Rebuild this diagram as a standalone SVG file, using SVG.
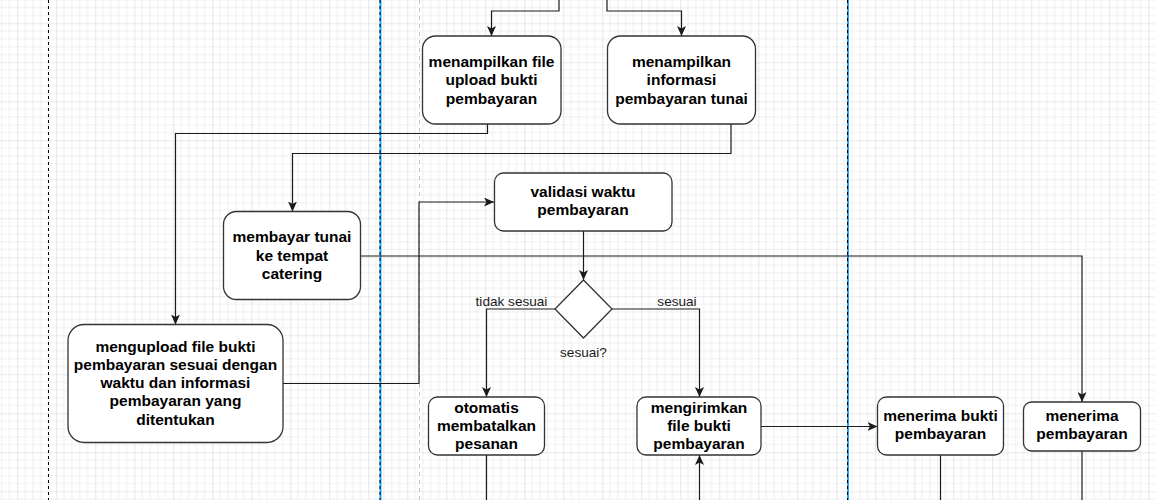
<svg xmlns="http://www.w3.org/2000/svg" width="1155" height="500" viewBox="0 0 1155 500">
<style>
.node rect{fill:#fff;stroke:#333;stroke-width:1.3}
.node text{font-family:"Liberation Sans",Arial,Helvetica,sans-serif;font-weight:bold;font-size:15.5px;fill:#000;text-anchor:middle}
.edge{fill:none;stroke:#1a1a1a;stroke-width:1.2}
.lbl{font-family:"Liberation Sans",Arial,Helvetica,sans-serif;font-size:13.6px;fill:#1a1a1a;text-anchor:middle}
</style>
<defs>
<pattern id="grid" patternUnits="userSpaceOnUse" x="17.3" y="23.3" width="39" height="39">
<rect width="39" height="39" fill="#fff"/>
<path d="M7.8,0V39M15.6,0V39M23.4,0V39M31.2,0V39M0,7.8H39M0,15.6H39M0,23.4H39M0,31.2H39" stroke="#f0f0f0" stroke-width="1"/>
<path d="M0,0V39M0,0H39" stroke="#d6d6d6" stroke-width="1.2"/>
</pattern>
<marker id="arr" viewBox="0 0 10 9" refX="10" refY="4.5" markerWidth="10" markerHeight="9" markerUnits="userSpaceOnUse" orient="auto">
<path d="M0,0 L10,4.5 L0,9 L2.5,4.5 Z" fill="#1a1a1a"/>
</marker>
</defs>
<rect width="1155" height="500" fill="url(#grid)"/>
<g id="lanes">
<line x1="48.5" y1="0" x2="48.5" y2="500" stroke="#000" stroke-width="1" stroke-dasharray="3 3"/>
<line x1="419.5" y1="0" x2="419.5" y2="500" stroke="#c8c8c8" stroke-width="1" stroke-dasharray="4 4"/>
<line x1="380.5" y1="0" x2="380.5" y2="500" stroke="#0a9cf0" stroke-width="1.8"/>
<line x1="380" y1="0" x2="380" y2="500" stroke="#000" stroke-width="1" stroke-dasharray="3 3"/>
<line x1="848" y1="0" x2="848" y2="500" stroke="#0a9cf0" stroke-width="1.8"/>
<line x1="847.5" y1="0" x2="847.5" y2="500" stroke="#000" stroke-width="1" stroke-dasharray="3 3"/>
</g>
<g id="connectors">
<path class="edge" d="M559,0 V11 H491.5 V36" marker-end="url(#arr)"/>
<path class="edge" d="M607,0 V11 H681.5 V36" marker-end="url(#arr)"/>
<path class="edge" d="M487.5,124 V133.5 H175.5 V324.5" marker-end="url(#arr)"/>
<path class="edge" d="M731,124 V153.5 H292.5 V211.5" marker-end="url(#arr)"/>
<path class="edge" d="M283,383.5 H419 V202 H494" marker-end="url(#arr)"/>
<path class="edge" d="M361,256 H1082 V402" marker-end="url(#arr)"/>
<path class="edge" d="M583.5,231 V280" marker-end="url(#arr)"/>
<path class="edge" d="M555,309 H486.5 V397" marker-end="url(#arr)"/>
<path class="edge" d="M612,309 H699.5 V397" marker-end="url(#arr)"/>
<path class="edge" d="M761,426.5 H877.5" marker-end="url(#arr)"/>
<path class="edge" d="M486.5,455 V500"/>
<path class="edge" d="M699.5,500 V455" marker-end="url(#arr)"/>
<path class="edge" d="M940.5,455 V500"/>
<path class="edge" d="M1082,451 V500"/>
<text class="lbl" x="511.5" y="306">tidak sesuai</text>
<text class="lbl" x="677" y="306">sesuai</text>
<text class="lbl" x="583.5" y="357">sesuai?</text>
</g>
<g id="n1" class="node"><rect x="422.5" y="36" width="138.5" height="88" rx="13"/>
<text x="491.5"><tspan x="491.5" y="67">menampilkan file</tspan><tspan x="491.5" y="85.3">upload bukti</tspan><tspan x="491.5" y="103.6">pembayaran</tspan></text></g>
<g id="n2" class="node"><rect x="607.5" y="36" width="148" height="88" rx="13"/>
<text><tspan x="681.5" y="67">menampilkan</tspan><tspan x="681.5" y="85.3">informasi</tspan><tspan x="681.5" y="103.6">pembayaran tunai</tspan></text></g>
<g id="n3" class="node"><rect x="223.5" y="211.5" width="137" height="88" rx="13"/>
<text><tspan x="292" y="242.3">membayar tunai</tspan><tspan x="292" y="260.6">ke tempat</tspan><tspan x="292" y="278.9">catering</tspan></text></g>
<g id="n4" class="node"><rect x="494.5" y="173" width="177.5" height="58" rx="9"/>
<text><tspan x="583" y="197">validasi waktu</tspan><tspan x="583" y="215.3">pembayaran</tspan></text></g>
<g id="n5" class="node"><path d="M583.5,280 L612,309 L583.5,338 L555,309 Z" fill="#fff" stroke="#333" stroke-width="1.3"/></g>
<g id="n6" class="node"><rect x="428.5" y="397" width="116" height="58" rx="9"/>
<text><tspan x="486.5" y="412.5">otomatis</tspan><tspan x="486.5" y="430.8">membatalkan</tspan><tspan x="486.5" y="449.1">pesanan</tspan></text></g>
<g id="n7" class="node"><rect x="637" y="397" width="124" height="58" rx="9"/>
<text><tspan x="699" y="412.5">mengirimkan</tspan><tspan x="699" y="430.8">file bukti</tspan><tspan x="699" y="449.1">pembayaran</tspan></text></g>
<g id="n8" class="node"><rect x="877.5" y="397" width="126" height="58" rx="9"/>
<text><tspan x="940.5" y="420.5">menerima bukti</tspan><tspan x="940.5" y="438.8">pembayaran</tspan></text></g>
<g id="n9" class="node"><rect x="1023.5" y="402" width="117" height="49" rx="8"/>
<text><tspan x="1082" y="420.5">menerima</tspan><tspan x="1082" y="438.8">pembayaran</tspan></text></g>
<g id="n10" class="node"><rect x="68" y="324.5" width="215" height="118" rx="16"/>
<text><tspan x="175.5" y="351.5">mengupload file bukti</tspan><tspan x="175.5" y="369.8">pembayaran sesuai dengan</tspan><tspan x="175.5" y="388.1">waktu dan informasi</tspan><tspan x="175.5" y="406.4">pembayaran yang</tspan><tspan x="175.5" y="424.7">ditentukan</tspan></text></g>
</svg>
